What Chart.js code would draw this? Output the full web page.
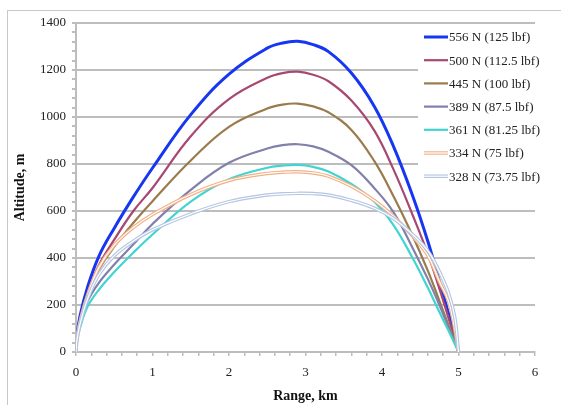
<!DOCTYPE html>
<html>
<head>
<meta charset="utf-8">
<script src="https://cdn.jsdelivr.net/npm/chart.js@4.4.0/dist/chart.umd.min.js"></script>
<style>
  body { margin: 0; background: #fff; }
  #wrap { width: 561px; height: 405px; position: relative; }
</style>
</head>
<body>
<div id="wrap"><canvas id="trajChart"></canvas></div>
<script>
// range points (km), shared by every curve
const rangeKm = [0, 0.01, 0.05, 0.15, 0.3, 0.5, 0.75, 1, 1.5, 2, 2.5, 2.7, 2.9, 3.1, 3.3, 3.6, 3.9, 4.15, 4.4, 4.6, 4.75, 4.87, 4.95, 5];

// altitude (m) for each thrust level
const alt556 = [0, 60, 150, 275, 408, 527, 660, 783, 1010, 1182, 1293, 1315, 1322, 1308, 1278, 1187, 1045, 875, 665, 470, 300, 163, 65, 0];
const alt500 = [0, 55, 135, 250, 370, 478, 600, 698, 918, 1076, 1167, 1187, 1193, 1180, 1152, 1070, 942, 777, 583, 417, 270, 144, 58, 0];
const alt445 = [0, 50, 125, 240, 350, 448, 550, 642, 815, 958, 1036, 1053, 1057, 1045, 1020, 945, 812, 663, 495, 345, 218, 113, 45, 0];
const alt389 = [0, 45, 115, 215, 295, 372, 458, 545, 690, 805, 866, 880, 884, 875, 852, 795, 697, 595, 443, 310, 200, 104, 42, 0];
const alt361 = [0, 40, 100, 192, 265, 340, 423, 500, 640, 735, 784, 793, 796, 788, 768, 715, 640, 540, 400, 273, 170, 90, 35, 0];
const alt334 = [0, 50, 125, 240, 360, 455, 530, 585, 670, 730, 760, 765, 767, 762, 748, 705, 645, 578, 493, 410, 300, 215, 100, 0];
const alt328 = [0, 45, 115, 225, 330, 410, 472, 520, 588, 640, 668, 673, 675, 674, 668, 645, 612, 568, 500, 430, 342, 250, 150, 0];

const seriesLabels = ['556 N (125 lbf)', '500 N (112.5 lbf)', '445 N (100 lbf)', '389 N (87.5 lbf)',
  '361 N (81.25 lbf)', '334 N (75 lbf)', '328 N (73.75 lbf)'];
const seriesData = [alt556, alt500, alt445, alt389, alt361, alt334, alt328];
const seriesColors = ['#1736f2', '#a84872', '#9a7b4c', '#8080aa', '#42d4d0', '#f2b086', '#b4c6e2'];
const lineWidths = [3, 2.2, 2.2, 2.2, 2.2, 3.5, 3.5];
const doubleLine = [false, false, false, false, false, true, true];

const SERIF = '"Liberation Serif", "Times New Roman", serif';
const GRID = '#bdbdbd';

function toPoints(ys) {
  return rangeKm.map((x, i) => ({ x: x, y: ys[i] }));
}

const datasets = [];
seriesData.forEach((ys, i) => {
  datasets.push({
    label: seriesLabels[i],
    data: toPoints(ys),
    borderColor: seriesColors[i],
    backgroundColor: seriesColors[i],
    borderWidth: lineWidths[i],
    pointRadius: 0,
    showLine: true,
    tension: 0.4,
    order: 20 - 2 * i
  });
  if (doubleLine[i]) {
    // white core to get the double-line look
    datasets.push({
      label: '_core' + i,
      data: toPoints(ys),
      borderColor: '#ffffff',
      borderWidth: 1.2,
      pointRadius: 0,
      showLine: true,
      tension: 0.4,
      order: 19 - 2 * i
    });
  }
});

// outer frame + legend box drawn inside plot
const framePlugin = {
  id: 'frame',
  beforeDraw(chart) {
    const c = chart.ctx;
    c.save();
    c.fillStyle = '#fff';
    c.fillRect(0, 0, chart.width, chart.height);
    c.strokeStyle = '#c8c8c8';
    c.lineWidth = 1;
    c.strokeRect(7.5, 10.5, 600, 450);
    c.restore();
  },
  afterDraw(chart) {
    const c = chart.ctx;
    c.save();
    c.fillStyle = '#fff';
    c.fillRect(418, 26, 143, 160);
    c.font = '13px ' + SERIF;
    c.textBaseline = 'middle';
    c.fillStyle = '#222';
    seriesLabels.forEach((lab, i) => {
      const y = 37 + i * 23.2;
      c.beginPath();
      c.moveTo(424, y);
      c.lineTo(448, y);
      c.strokeStyle = seriesColors[i];
      c.lineWidth = lineWidths[i];
      c.stroke();
      if (doubleLine[i]) {
        c.beginPath();
        c.moveTo(424, y);
        c.lineTo(448, y);
        c.strokeStyle = '#fff';
        c.lineWidth = 1.2;
        c.stroke();
      }
      c.fillText(lab, 449, y + 1);
    });
    c.restore();
  }
};

const ctx = document.getElementById('trajChart').getContext('2d');
new Chart(ctx, {
  type: 'scatter',
  data: { datasets },
  plugins: [framePlugin],
  options: {
    responsive: true,
    maintainAspectRatio: false,
    animation: false,
    layout: { padding: { left: 12, right: 26, top: 23, bottom: 0 } },
    plugins: {
      legend: { display: false },
      tooltip: { enabled: false }
    },
    scales: {
      x: {
        type: 'linear',
        min: 0,
        max: 6,
        afterFit(scale) { scale.height = 53; },
        border: { color: GRID, width: 2 },
        grid: { drawOnChartArea: false, color: GRID, tickColor: GRID, tickLength: 4, lineWidth: 1.5 },
        ticks: {
          stepSize: 0.2,
          autoSkip: false,
          maxRotation: 0,
          padding: 9,
          color: '#222',
          font: { family: SERIF, size: 13 },
          callback: v => (Math.abs(v - Math.round(v)) < 1e-6 ? Math.round(v) : '')
        },
        title: {
          display: true,
          text: 'Range, km',
          color: '#111',
          font: { family: SERIF, size: 14, weight: 'bold' },
          padding: { top: 2, bottom: 0 }
        }
      },
      y: {
        type: 'linear',
        min: 0,
        max: 1400,
        afterFit(scale) { scale.width = 64; },
        border: { color: GRID, width: 2 },
        grid: {
          color: c => (c.tick && c.tick.value % 200 === 0 ? GRID : 'rgba(0,0,0,0)'),
          tickColor: GRID,
          tickLength: 4,
          lineWidth: 2
        },
        ticks: {
          stepSize: 40,
          autoSkip: false,
          color: '#222',
          font: { family: SERIF, size: 13 },
          padding: 6,
          callback: v => (v % 200 === 0 ? v : '')
        },
        title: {
          display: true,
          text: 'Altitude, m',
          color: '#111',
          font: { family: SERIF, size: 14, weight: 'bold' },
          padding: { top: 0, bottom: 4 }
        }
      }
    }
  }
});
</script>
</body>
</html>
